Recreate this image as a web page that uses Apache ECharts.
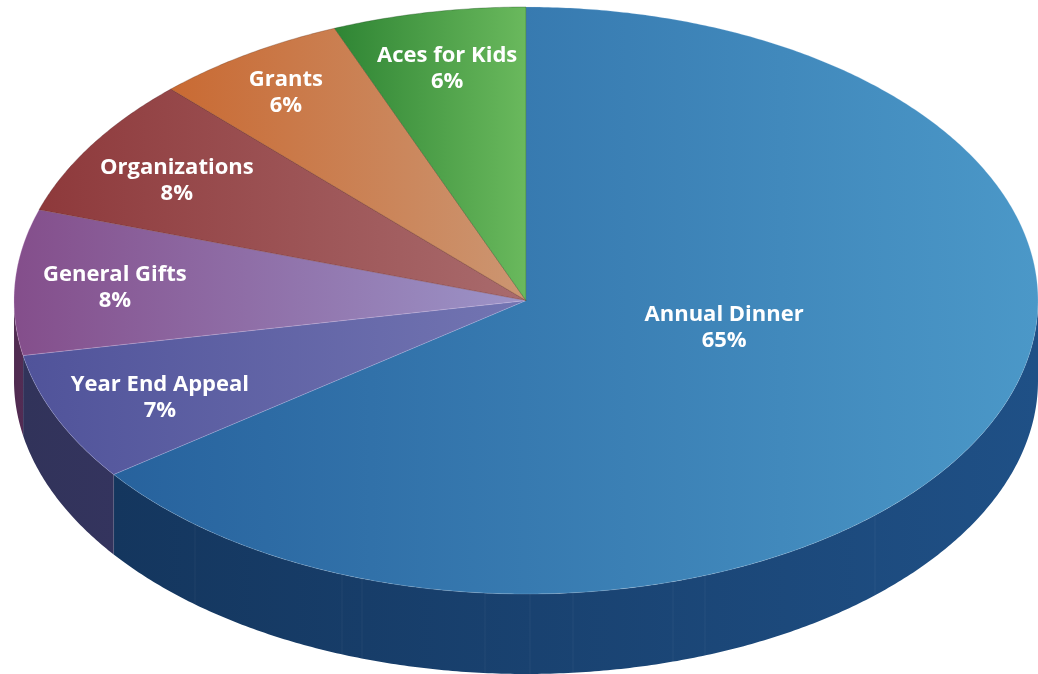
<!DOCTYPE html>
<html><head><meta charset="utf-8">
<style>html,body{margin:0;padding:0;background:#fff}#c{width:1038px;height:674px}</style>
<script src="https://cdn.jsdelivr.net/npm/echarts@6/dist/echarts.min.js"></script>
</head><body><div id="c"></div>
<script>
const categories = ['Annual Dinner','Year End Appeal','General Gifts','Organizations','Grants','Aces for Kids'];
const shares = [64.9,7.1,8,7.8,6.1,6.1];
const topLeft  = ['#27629d','#50539a','#844e8b','#8e393b','#c96a33','#2f8534'];
const topRight = ['#4b98c8','#7375b2','#9c94c8','#a96b6d','#cc9672','#6ab95d'];
const sideLeft  = ['#14365e','#31335a','#4f2a50','#5a2427','#7a4020','#1d5220'];
const sideRight = ['#1f5086','#34345e','#532c54','#5a2427','#7a4020','#1d5220'];
const edgeColor = ['rgba(190,215,240,.35)','rgba(190,190,235,.45)','rgba(230,200,235,.4)','rgba(70,15,20,.5)','rgba(90,40,15,.5)','rgba(20,70,25,.55)'];
const labelAnchors = [[.387,.094],[-.715,.332],[-.803,-.042],[-.682,-.407],[-.469,-.707],[-.154,-.789]];
const wallSeams = [195,342,362,485,530,573,673,705,875];

const DEPTH = 0.2725, STEP = 0.5;
const total = shares.reduce((a,b)=>a+b,0);
const starts = []; shares.reduce((s,v,i)=>(starts[i]=s, s+v),0);
const grad = (a,b)=> new echarts.graphic.LinearGradient(0,0,1,0,[{offset:0,color:a},{offset:1,color:b}]);

function renderItem(params, api){
  const i = api.value(0), share = api.value(1);
  const c = api.coord([0,0]), s = api.size([1,1]);
  const rx = s[0], ry = s[1], depth = ry*DEPTH;
  const a0 = starts[i]/total*360, a1 = a0 + share/total*360;
  const pt = (deg,dy)=>{const r=deg*Math.PI/180;return [c[0]+rx*Math.sin(r), c[1]-ry*Math.cos(r)+(dy||0)];};
  const arc = (from,to,dy)=>{const o=[];const n=Math.max(1,Math.ceil(Math.abs(to-from)/STEP));
    for(let k=0;k<=n;k++)o.push(pt(from+(to-from)*k/n,dy));return o;};
  const children = [];
  const w0 = Math.max(a0,90), w1 = Math.min(a1,270);
  if(w1>w0){
    children.push({type:'polygon',silent:true,
      shape:{points:arc(w0,w1,0).concat(arc(w1,w0,depth))},
      style:{fill:grad(sideLeft[i],sideRight[i])}});
    children.push({type:'line',silent:true,
      shape:{x1:pt(w1)[0],y1:pt(w1)[1],x2:pt(w1)[0],y2:pt(w1)[1]+depth},
      style:{stroke:'rgba(255,255,255,.12)',lineWidth:.6}});
    if(i===0){
      wallSeams.forEach(px=>{
        const u=(px-c[0])/rx, y=c[1]+ry*Math.sqrt(1-u*u);
        children.push({type:'line',silent:true,shape:{x1:px,y1:y,x2:px,y2:y+depth},
          style:{stroke:'rgba(255,255,255,.05)',lineWidth:1}});
      });
    }
  }
  children.push({type:'polygon',silent:true,
    shape:{points:[c].concat(arc(a0,a1,0))},
    style:{fill:grad(topLeft[i],topRight[i]),stroke:edgeColor[i],lineWidth:.6,lineJoin:'round'}});
  const l = api.coord(labelAnchors[i]);
  children.push({type:'text',silent:true,z2:10,
    x:l[0],y:l[1],
    style:{text:categories[i]+'\n'+Math.round(share)+'%',fill:'#fff',align:'center',verticalAlign:'middle',
      lineHeight:26,font:'700 22px "Open Sans"'}});
  return {type:'group',children};
}

const chart = echarts.init(document.getElementById('c'),null,{renderer:'canvas'});
chart.setOption({
  animation:false,
  backgroundColor:'#fff',
  grid:{left:14,right:0,top:7,bottom:80},
  xAxis:{type:'value',min:-1,max:1,show:false},
  yAxis:{type:'value',min:-1,max:1,inverse:true,show:false},
  series:[{type:'custom',clip:false,renderItem,
    encode:{x:-1,y:-1},
    data:categories.map((name,i)=>({name,value:[i,shares[i]]}))}]
});
</script></body></html>
